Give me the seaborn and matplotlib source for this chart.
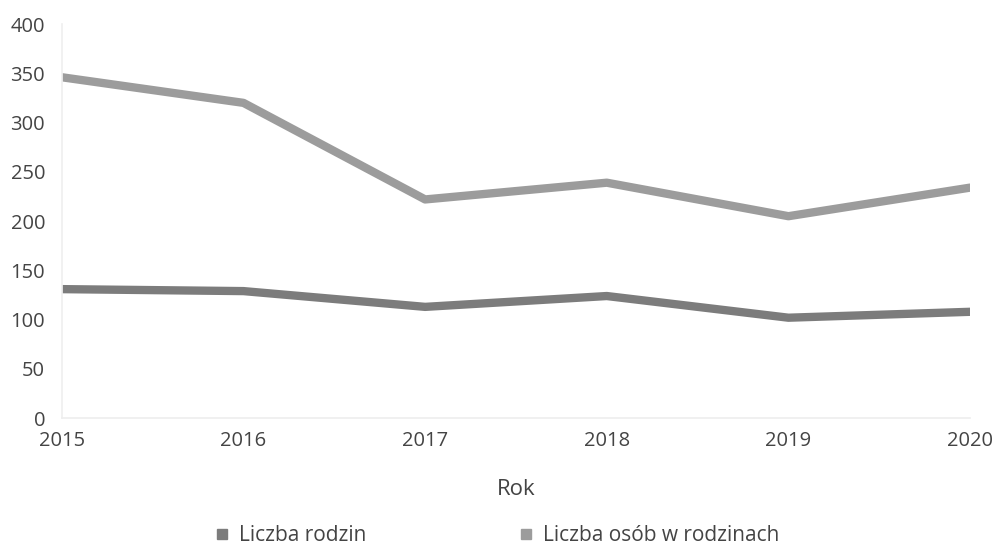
import matplotlib
matplotlib.use("Agg")
import matplotlib.pyplot as plt
from matplotlib.lines import Line2D
import pandas as pd
import seaborn as sns

# ========== Data ==========
years = [2015, 2016, 2017, 2018, 2019, 2020]
families = [131, 129, 113, 124, 102, 108]
persons = [346, 320, 222, 239, 205, 234]
series_names = ["Liczba rodzin", "Liczba osób w rodzinach"]
colors = ["#7c7c7c", "#9c9c9c"]

df = pd.DataFrame({
    "Rok": years * 2,
    "value": families + persons,
    "series": [series_names[0]] * len(years) + [series_names[1]] * len(years),
})

sns.set_theme(style="white")
plt.rcParams["font.family"] = ["Open Sans", "DejaVu Sans"]
text_color = "#444444"

fig = plt.figure(figsize=(9.97, 5.46), dpi=100)
ax = fig.add_axes([0.062, 0.234, 0.911, 0.722])

sns.lineplot(data=df, x="Rok", y="value", hue="series", palette=colors,
             linewidth=6, ax=ax, legend=False)

ax.set_xlim(2015, 2020)
ax.set_ylim(0, 400)
ax.set_yticks(range(0, 401, 50))
ax.set_xticks(years)
ax.tick_params(axis="both", labelsize=14.5, colors=text_color, length=0)
ax.tick_params(axis="y", pad=12)
ax.tick_params(axis="x", pad=9)

ax.set_ylabel("")
ax.set_xlabel("Rok", fontsize=16, color=text_color, labelpad=20)

for side in ["top", "right"]:
    ax.spines[side].set_visible(False)
ax.spines["left"].set_color("#f0f0f0")
ax.spines["bottom"].set_color("#eeeeee")

handles = [Line2D([0], [0], marker="s", color="none", markerfacecolor=c,
                  markeredgecolor=c, markersize=7) for c in colors]
fig.legend(handles, series_names, loc="lower center", ncol=2,
           bbox_to_anchor=(0.497, -0.035), frameon=False, fontsize=15,
           labelcolor=text_color, columnspacing=7.2, handletextpad=0.3,
           handlelength=1.0)

plt.savefig("out.png", dpi=100)
